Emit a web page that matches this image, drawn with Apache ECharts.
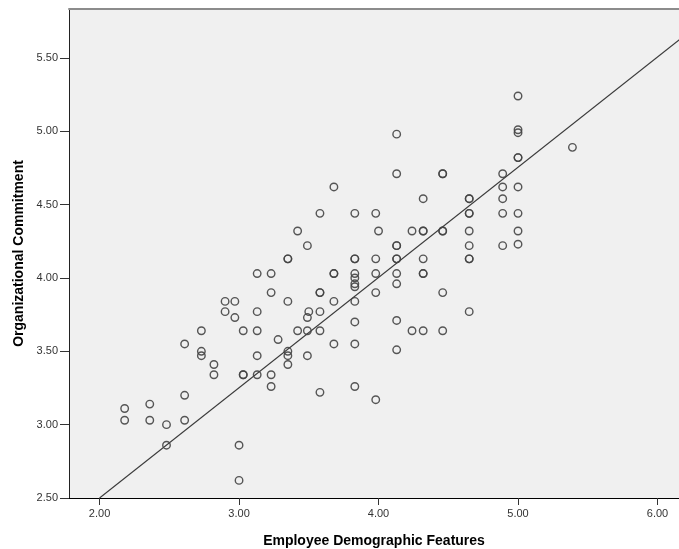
<!DOCTYPE html>
<html>
<head>
<meta charset="utf-8">
<script src="https://cdn.jsdelivr.net/npm/echarts@6/dist/echarts.min.js"></script>
<style>
html,body{margin:0;padding:0;background:#fff;}
#chart{width:679px;height:549px;}
</style>
</head>
<body>
<div id="chart"></div>
<script>
// Employee Demographic Features (x) for each respondent
const featureX = [
  2.18, 2.18,
  2.36, 2.36,
  2.48, 2.48,
  2.61, 2.61, 2.61,
  2.73, 2.73, 2.73,
  2.82, 2.82,
  2.90, 2.90,
  2.97, 2.97,
  3.00, 3.00,
  3.03, 3.03, 3.03,
  3.13, 3.13, 3.13, 3.13, 3.13,
  3.23, 3.23, 3.23, 3.23,
  3.28,
  3.35, 3.35, 3.35, 3.35, 3.35, 3.35,
  3.42, 3.42,
  3.49, 3.49, 3.49, 3.49,
  3.50,
  3.58, 3.58, 3.58, 3.58, 3.58, 3.58,
  3.68, 3.68, 3.68, 3.68, 3.68,
  3.83, 3.83, 3.83, 3.83, 3.83, 3.83, 3.83, 3.83, 3.83, 3.83, 3.83,
  3.98, 3.98, 3.98, 3.98, 3.98,
  4.00,
  4.13, 4.13, 4.13, 4.13, 4.13, 4.13, 4.13, 4.13, 4.13, 4.13,
  4.24, 4.24,
  4.32, 4.32, 4.32, 4.32, 4.32, 4.32, 4.32,
  4.46, 4.46, 4.46, 4.46, 4.46, 4.46,
  4.65, 4.65, 4.65, 4.65, 4.65, 4.65, 4.65, 4.65, 4.65,
  4.89, 4.89, 4.89, 4.89, 4.89,
  5.00, 5.00, 5.00, 5.00, 5.00, 5.00, 5.00, 5.00, 5.00,
  5.39
];
// Organizational Commitment (y) for each respondent
const commitmentY = [
  3.11, 3.03,
  3.14, 3.03,
  3.00, 2.86,
  3.55, 3.20, 3.03,
  3.64, 3.50, 3.47,
  3.41, 3.34,
  3.84, 3.77,
  3.84, 3.73,
  2.86, 2.62,
  3.64, 3.34, 3.34,
  4.03, 3.77, 3.64, 3.47, 3.34,
  4.03, 3.90, 3.34, 3.26,
  3.58,
  4.13, 4.13, 3.84, 3.50, 3.47, 3.41,
  4.32, 3.64,
  4.22, 3.73, 3.64, 3.47,
  3.77,
  4.44, 3.90, 3.90, 3.77, 3.64, 3.22,
  4.62, 4.03, 4.03, 3.84, 3.55,
  4.44, 4.13, 4.13, 4.03, 4.00, 3.96, 3.94, 3.84, 3.70, 3.55, 3.26,
  4.44, 4.13, 4.03, 3.90, 3.17,
  4.32,
  4.98, 4.71, 4.22, 4.22, 4.13, 4.13, 4.03, 3.96, 3.71, 3.51,
  4.32, 3.64,
  4.54, 4.32, 4.32, 4.13, 4.03, 4.03, 3.64,
  4.71, 4.71, 4.32, 4.32, 3.90, 3.64,
  4.54, 4.54, 4.44, 4.44, 4.32, 4.22, 4.13, 4.13, 3.77,
  4.71, 4.62, 4.54, 4.44, 4.22,
  5.24, 5.01, 4.99, 4.82, 4.82, 4.62, 4.44, 4.32, 4.23,
  4.89
];
// Linear fit line: y = fitIntercept + fitSlope * x
const fitIntercept = 0.997;
const fitSlope = 0.7515;
const fitRangeX = [2.0, 6.3];

// Tick labels
const xTicks = [2, 3, 4, 5, 6];
const yTicks = [2.5, 3.0, 3.5, 4.0, 4.5, 5.0, 5.5];

const xTitle = 'Employee Demographic Features';
const yTitle = 'Organizational Commitment';

const points = featureX.map((x, i) => [x, commitmentY[i]]);
const fitLine = fitRangeX.map(x => [x, fitIntercept + fitSlope * x]);

const X_MIN = 1.781, X_MAX = 6.154, Y_MIN = 2.5, Y_MAX = 5.833;
const FONT = '"Liberation Sans", Arial, sans-serif';

const chart = echarts.init(document.getElementById('chart'), null, {renderer: 'canvas'});
chart.setOption({
  animation: false,
  backgroundColor: '#ffffff',
  grid: {
    left: 69, right: 0, top: 9, bottom: 51,
    containLabel: false, outerBoundsMode: 'none',
    show: true, backgroundColor: '#f0f0f0', borderWidth: 0
  },
  xAxis: [{
    type: 'value', min: X_MIN, max: X_MAX,
    name: xTitle, nameLocation: 'middle', nameGap: 36,
    nameTextStyle: {fontFamily: FONT, fontSize: 14, fontWeight: 'bold', color: '#000'},
    axisLine: {show: true, onZero: false, lineStyle: {color: '#000', width: 1}},
    axisTick: {show: true, length: 7, customValues: xTicks, lineStyle: {color: '#333'}},
    axisLabel: {show: true, customValues: xTicks, margin: 10, fontFamily: FONT, fontSize: 11, color: '#333',
      formatter: v => v.toFixed(2)},
    splitLine: {show: false}
  }, {
    type: 'value', position: 'top', min: X_MIN, max: X_MAX,
    axisLine: {show: true, lineStyle: {color: '#8c8c8c', width: 2}},
    axisTick: {show: false}, axisLabel: {show: false}, splitLine: {show: false}
  }],
  yAxis: {
    type: 'value', min: Y_MIN, max: Y_MAX,
    name: yTitle, nameLocation: 'middle', nameGap: 42,
    nameTextStyle: {fontFamily: FONT, fontSize: 14, fontWeight: 'bold', color: '#000'},
    axisLine: {show: true, onZero: false, lineStyle: {color: '#222', width: 1}},
    axisTick: {show: true, length: 9, customValues: yTicks, lineStyle: {color: '#333'}},
    axisLabel: {show: true, customValues: yTicks, margin: 11, fontFamily: FONT, fontSize: 11, color: '#333',
      formatter: v => v.toFixed(2)},
    splitLine: {show: false}
  },
  series: [{
    type: 'line',
    data: fitLine,
    showSymbol: false,
    symbol: 'none',
    clip: true,
    lineStyle: {color: '#3a3a3a', width: 1.1},
    z: 2
  }, {
    type: 'scatter',
    data: points,
    symbol: 'circle',
    symbolSize: 7.5,
    itemStyle: {color: 'rgba(0,0,0,0)', borderColor: '#444444', borderWidth: 1.4, opacity: 0.9},
    z: 3
  }]
});
</script>
</body>
</html>
